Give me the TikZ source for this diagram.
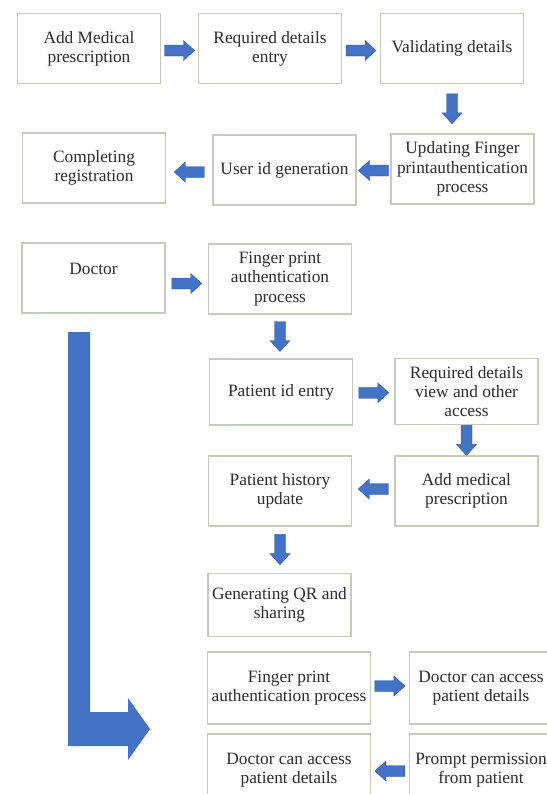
\documentclass[tikz,border=0pt]{standalone}
\usepackage{fontspec}
\setmainfont{Liberation Serif}
\usetikzlibrary{calc}
\definecolor{boxgray}{RGB}{198,204,186}
\definecolor{txt}{RGB}{45,45,45}
\definecolor{arrowblue}{RGB}{68,114,196}
\definecolor{arrowdark}{RGB}{50,88,160}
\newcommand{\blockarrow}[2]{%
  \fill[arrowblue, draw=arrowdark, line width=0.3pt, shift={(#1)}, rotate=#2]
    (-15,-5.5) -- (4,-5.5) -- (4,-10) -- (15,0) -- (4,10) -- (4,5.5) -- (-15,5.5) -- cycle;}
\begin{document}
\begin{tikzpicture}[x=0.75pt, y=-0.75pt,
  box/.style={draw=boxgray, line width=0.9pt, align=center, text=txt,
    font=\fontsize{13}{14.4}\selectfont, inner sep=0pt,
    minimum width=107.25pt, minimum height=52.5pt},
  widebox/.style={box, minimum width=122pt}]
\useasboundingbox (0,0) rectangle (547,794);
\fill[white] (0,0) rectangle (547,794);
\clip (0,0) rectangle (547,794);

% registration flow
\node[box] (a1) at (89,48.5) {Add Medical\\prescription};
\node[box] (a2) at (270,48.5) {Required details\\entry};
\node[box] (a3) at (452,48.5) {Validating details};
\node[box] (a4) at (462.5,169) {Updating Finger\\printauthentication\\process};
\node[box] (a5) at (284.5,170) {User id generation};
\node[box] (a6) at (94,168) {Completing\\registration};

\coordinate (r1) at ($(a1.east)!0.5!(a2.west)+(0,2)$);
\coordinate (r2) at ($(a2.east)!0.5!(a3.west)+(0,2)$);
\coordinate (d1) at ($(a3.south)!0.5!(a3.south|-a4.north)$);
\coordinate (l1) at ($(a5.east)!0.5!(a4.west)+(0,1)$);
\coordinate (l2) at ($(a6.east)!0.5!(a5.west)+(0,3)$);
\blockarrow{r1}{0}
\blockarrow{r2}{0}
\blockarrow{d1}{-90}
\blockarrow{l1}{180}
\blockarrow{l2}{180}

% doctor flow
\node[box] (b1) at (93.5,278) {Doctor\\\mbox{}};
\node[box] (b2) at (280,279) {Finger print\\authentication\\process};
\node[box, minimum height=49.5pt] (b3) at (281,392) {Patient id entry};
\node[box, minimum height=50pt] (b4) at (466.5,391.5) {Required details\\view and other\\access};
\node[box] (b5) at (466.5,491) {Add medical\\prescription};
\node[box] (b6) at (280,491) {Patient history\\update};
\node[box, minimum height=47.5pt] (b7) at (279.5,605) {Generating QR and\\sharing};
\node[widebox, minimum height=54pt] (b8) at (289,688) {Finger print\\authentication process};
\node[box, minimum height=54pt] (b9) at (481,688) {Doctor can access\\patient details};
\node[widebox, minimum height=54pt] (b10) at (289,770) {Doctor can access\\patient details};
\node[box, minimum height=54pt] (b11) at (481,770) {Prompt permission\\from patient};

\coordinate (e1) at ($(b1.east)!0.5!(b2.west)+(0,5)$);
\coordinate (e2) at ($(b2.south)!0.5!(b2.south|-b3.north)$);
\coordinate (e3) at ($(b3.east)!0.5!(b4.west)+(0,1)$);
\coordinate (e4) at ($(b4.south)!0.5!(b4.south|-b5.north)$);
\coordinate (e5) at ($(b6.east)!0.5!(b5.west)+(0,-2)$);
\coordinate (e6) at ($(b6.south)!0.5!(b6.south|-b7.north)$);
\coordinate (e7) at ($(b8.east)!0.5!(b9.west)+(0,-2)$);
\coordinate (e8) at ($(b10.east)!0.5!(b11.west)+(0,1)$);
\blockarrow{e1}{0}
\blockarrow{e2}{-90}
\blockarrow{e3}{0}
\blockarrow{e4}{-90}
\blockarrow{e5}{180}
\blockarrow{e6}{-90}
\blockarrow{e7}{0}
\blockarrow{e8}{180}

% large bent arrow
\fill[arrowblue] (68,332) -- (90,332) -- (90,712) -- (128,712) -- (128,698)
  -- (150,729) -- (128,760) -- (128,746) -- (68,746) -- cycle;
\end{tikzpicture}
\end{document}
